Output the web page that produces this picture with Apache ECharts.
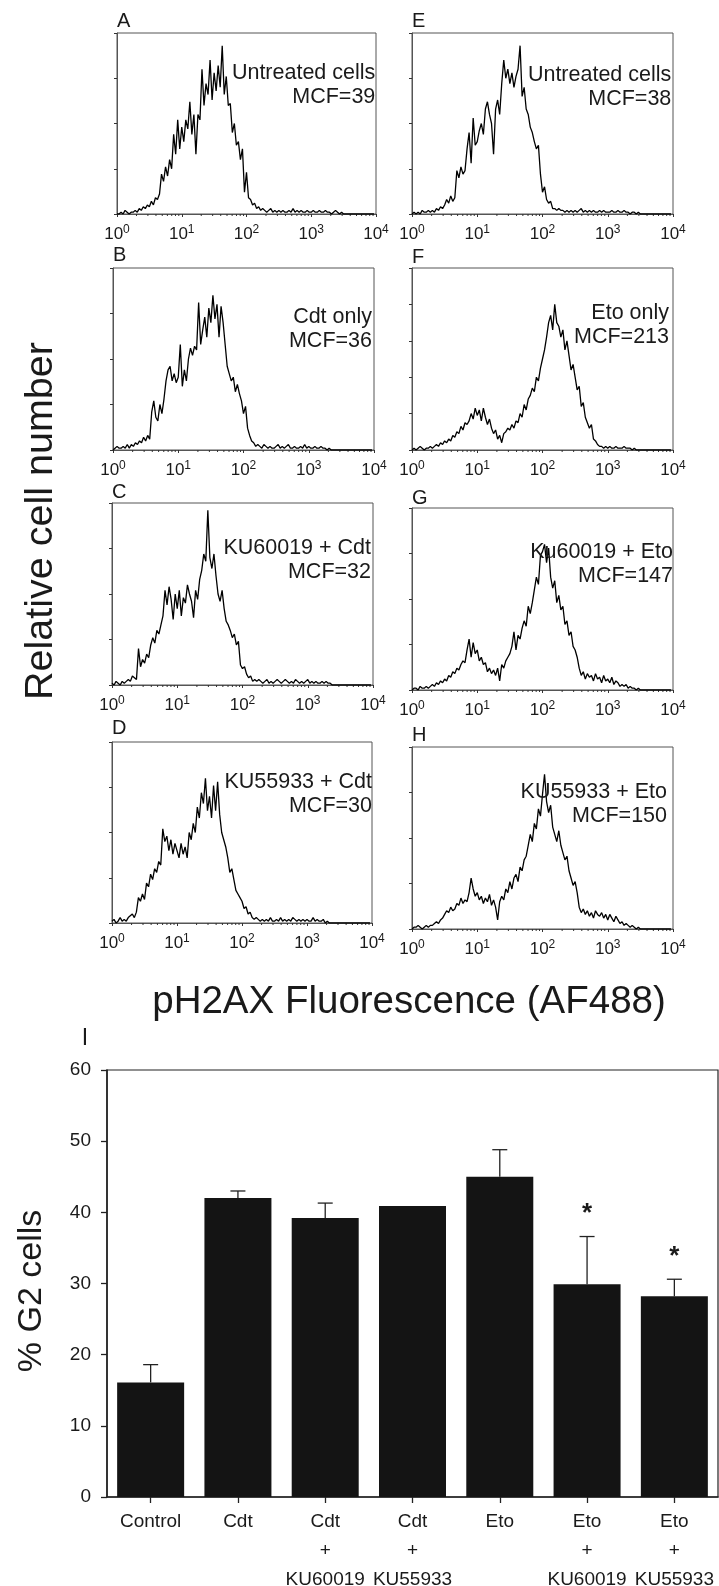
<!DOCTYPE html>
<html><head><meta charset="utf-8">
<script src="https://cdn.jsdelivr.net/npm/echarts@6/dist/echarts.min.js"></script>
<style>html,body{margin:0;padding:0;background:#fff}#c{width:719px;height:1586px}</style>
</head><body><div id="c"></div>
<script>
// ---------- histogram data (relative cell number, % of panel height; 32 bins per decade, 10^0..10^4) ----------
const binsPerDecade = 32;
const histA = [0,0,1,0,2,1,0,1, 1,2,1,3,2,4,3,5, 4,7,5,9,8,11,22,18, 26,21,30,25,44,33,52,36,
  48,40,52,47,62,44,55,33, 55,52,80,60,72,66,85,63, 78,68,82,70,93,66,76,60, 61,45,50,38,40,30,36,12,
  23,9,8,5,6,3,4,2, 3,2,1,2,3,1,2,1, 2,1,2,1,1,2,1,3, 1,2,1,2,1,1,2,1,
  1,2,1,1,2,1,1,2, 1,1,0,1,2,1,0,1, 0,0,0,0,0,0,0,0, 0,0,0,0,0,0,0,0];
const histB = [0,1,2,1,1,2,1,3, 1,3,2,4,3,5,4,7, 5,8,6,21,27,18,16,25, 20,28,38,44,46,38,42,37,
  40,58,35,44,38,50,56,52, 57,55,81,58,66,73,62,78, 70,85,72,80,62,79,70,58, 46,42,38,40,32,36,31,27,
  20,24,12,8,5,4,2,3, 2,1,3,2,1,2,1,1, 2,3,1,2,1,2,3,1, 1,2,1,1,2,1,3,1,
  2,1,1,2,1,1,2,1, 1,0,1,0,0,0,0,0, 0,0,0,0,0,0,0,0, 0,0,0,0,0,0,0,0];
const histC = [1,0,2,1,0,2,1,2, 3,2,5,4,3,20,10,14, 12,17,15,22,26,23,30,28, 33,38,52,44,54,47,36,50,
  42,52,38,48,45,55,50,46, 37,52,47,58,63,72,68,96, 70,64,72,60,50,46,52,42, 35,33,30,26,28,22,24,11,
  9,10,6,4,5,2,3,2, 3,2,1,2,3,1,2,1, 2,3,2,1,2,3,2,1, 2,1,3,2,1,2,1,2,
  3,1,2,1,2,1,1,2, 1,2,1,1,0,0,0,0, 0,0,0,0,0,0,0,0, 0,0,0,0,0,0,0,0];
const histD = [1,2,0,1,3,1,2,1, 3,4,5,3,6,14,12,16, 13,22,20,27,24,30,28,34, 32,52,45,48,40,46,38,44,
  40,36,44,38,42,36,50,46, 55,50,64,58,72,66,80,62, 70,58,76,62,78,60,50,46, 42,36,28,30,24,18,16,14,
  12,8,9,5,6,3,2,3, 2,1,2,1,2,1,3,1, 1,2,1,3,1,2,1,2, 1,3,2,1,2,1,2,1,
  2,1,1,3,1,2,1,1, 2,0,1,0,0,0,0,0, 0,0,0,0,0,0,0,0, 0,0,0,0,0,0,0,0];
const histE = [0,1,0,1,0,2,1,1, 2,1,2,1,3,2,4,3, 5,8,6,10,7,9,24,20, 26,22,24,36,45,28,53,38,
  40,46,50,44,58,62,55,50, 33,58,63,55,72,85,75,80, 72,78,70,76,80,93,65,70, 58,55,48,45,40,36,38,22,
  12,15,8,6,7,3,3,2, 3,2,2,1,2,1,2,1, 2,1,2,3,1,2,1,2, 1,2,1,1,2,1,2,1,
  1,1,2,1,1,2,1,1, 2,1,1,0,1,1,0,1, 0,0,0,0,0,0,0,0, 0,0,0,0,0,0,0,0];
const histF = [0,1,0,1,2,1,0,1, 1,2,1,2,3,2,4,3, 5,4,6,5,8,7,10,9, 13,11,15,14,16,20,17,23,
  19,22,16,23,18,14,17,12, 9,11,6,8,4,9,10,12, 11,14,12,16,15,20,18,25, 22,28,30,34,32,40,38,45,
  50,55,62,70,74,66,80,70, 68,62,66,55,60,52,44,47, 40,33,35,24,26,18,15,12, 14,6,5,3,2,2,1,2,
  1,2,1,1,2,1,1,1, 2,1,1,1,0,1,0,0, 0,0,0,0,0,0,0,0, 0,0,0,0,0,0,0,0];
const histG = [0,1,1,0,2,1,1,2, 1,2,3,2,4,3,5,4, 6,5,8,7,10,9,12,11, 14,16,15,22,28,18,26,20,
  22,16,18,14,15,10,12,9, 11,8,12,5,14,12,16,18, 20,24,32,22,30,28,34,38, 35,46,42,48,55,62,58,74,
  76,80,70,78,62,56,60,48, 52,44,46,36,38,30,32,24, 22,18,12,8,10,6,9,7, 8,5,9,6,7,4,8,5,
  6,4,7,3,5,4,2,3, 2,3,1,2,1,1,0,1, 0,0,0,0,0,0,0,0, 0,0,0,0,0,0,0,0];
const histH = [0,1,1,2,1,0,1,2, 1,2,2,3,4,3,5,6, 8,10,9,12,10,11,14,13, 17,14,16,15,20,28,22,18,
  20,16,18,14,17,15,19,13, 16,12,5,15,18,16,22,20, 26,22,28,30,26,34,32,38, 40,46,52,48,58,55,66,62,
  74,85,70,64,68,56,52,48, 54,46,42,38,40,32,28,24, 26,20,12,9,11,8,10,7, 9,6,10,8,7,9,6,8,
  5,8,6,4,7,5,3,4, 2,3,2,1,2,1,0,1, 0,0,0,0,0,0,0,0, 0,0,0,0,0,0,0,0];

const panelLetters = ['A','B','C','D','E','F','G','H'];
const panelLine1 = ['Untreated cells','Cdt only','KU60019 + Cdt','KU55933 + Cdt','Untreated cells','Eto only','Ku60019 + Eto','KU55933 + Eto'];
const panelLine2 = ['MCF=39','MCF=36','MCF=32','MCF=30','MCF=38','MCF=213','MCF=147','MCF=150'];
const decadeExponents = ['0','1','2','3','4'];
const minorTickFactors = [2,3,4,5,6,7,8,9];

// ---------- bar chart data ----------
const categories = ['Control','Cdt','Cdt\n+\nKU60019','Cdt\n+\nKU55933','Eto','Eto\n+\nKU60019','Eto\n+\nKU55933'];
const g2Values = [16.1, 42.0, 39.2, 40.9, 45.0, 29.9, 28.2];
const g2ErrorTops = [18.6, 43.0, 41.3, null, 48.8, 36.6, 30.6];
const starValues = [null, null, null, null, null, 40.6, 34.6];
const yTicksBar = [0, 60, 10];

// ---------- layout ----------
const hists = [histA, histB, histC, histD, histE, histF, histG, histH];
const layout = [
  {left:117, top:33,  width:259, height:181, yInt:25, inset:0.7, t1:40,   ld:-11.3},
  {left:113, top:268, width:261, height:182, yInt:25, inset:2,   t1:48.7, ld:-12.2},
  {left:112, top:503, width:261, height:182, yInt:25, inset:2,   t1:45.3, ld:-10.5},
  {left:112, top:742, width:260, height:181, yInt:25, inset:0,   t1:39.7, ld:-13.7},
  {left:412, top:33,  width:261, height:181, yInt:25, inset:1.7, t1:42,   ld:-11.3},
  {left:412, top:268, width:261, height:182, yInt:20, inset:4,   t1:44.7, ld:-11},
  {left:412, top:508, width:261, height:182, yInt:25, inset:0,   t1:43.7, ld:-9.7},
  {left:412, top:747, width:261, height:182, yInt:25, inset:6,   t1:44.7, ld:-11.2}
];
const FONT = '"Liberation Sans", Arial, Helvetica, sans-serif';
const INK = '#1a1a1a';
const FRAME = '#555';

const grids = [], xAxes = [], yAxes = [], series = [], graphics = [];
const minorPositions = [];
[0,1,2,3].forEach(n => minorTickFactors.forEach(k => minorPositions.push([n + Math.log10(k)])));

layout.forEach((p, k) => {
  grids.push({left:p.left, top:p.top, width:p.width, height:p.height, show:true, borderColor:FRAME, borderWidth:1,
    containLabel:false, outerBoundsMode:'none'});
  xAxes.push({
    gridIndex:k, type:'value', min:0, max:4, interval:1,
    axisLine:{show:true, onZero:false, lineStyle:{color:FRAME, width:1}},
    axisTick:{show:true, length:3, lineStyle:{color:'#333', width:1}},
    splitLine:{show:false},
    axisLabel:{
      margin:10, showMinLabel:true, showMaxLabel:true,
      formatter: v => '{b|10}{s|' + decadeExponents[Math.round(v)] + '}',
      rich:{
        b:{fontSize:17, fontFamily:FONT, color:INK, lineHeight:21, verticalAlign:'middle'},
        s:{fontSize:12, fontFamily:FONT, color:INK, lineHeight:12, verticalAlign:'top'}
      }
    }
  });
  yAxes.push({
    gridIndex:k, type:'value', min:0, max:100, interval:p.yInt,
    axisLine:{show:true, lineStyle:{color:FRAME, width:1}},
    axisTick:{show:true, length:3, lineStyle:{color:'#333', width:1}},
    axisLabel:{show:false}, splitLine:{show:false}
  });
  series.push({
    type:'line', xAxisIndex:k, yAxisIndex:k, symbol:'none', silent:true,
    lineStyle:{color:'#000', width:1.3},
    data: hists[k].map((v, i) => [i / binsPerDecade, v])
  });
  series.push({
    type:'custom', xAxisIndex:k, yAxisIndex:k, clip:false, silent:true,
    data: minorPositions, encode:{x:0},
    renderItem: (params, api) => {
      const pt = api.coord([api.value(0), 0]);
      return {type:'line', shape:{x1:pt[0], y1:pt[1], x2:pt[0], y2:pt[1] + 2}, style:{stroke:'#333', lineWidth:1}};
    }
  });
  graphics.push({type:'text', x:p.left, y:p.top + p.ld, style:{text:panelLetters[k], fontSize:20, fontFamily:FONT, fill:INK,
    align:'left', verticalAlign:'middle', textAlign:'left', textVerticalAlign:'middle'}});
  const rx = p.left + p.width - p.inset;
  graphics.push({type:'text', x:rx, y:p.top + p.t1, z:10, style:{text:panelLine1[k], fontSize:21.5, fontFamily:FONT, fill:INK,
    align:'right', verticalAlign:'middle', textAlign:'right', textVerticalAlign:'middle'}});
  graphics.push({type:'text', x:rx, y:p.top + p.t1 + 24, z:10, style:{text:panelLine2[k], fontSize:21.5, fontFamily:FONT, fill:INK,
    align:'right', verticalAlign:'middle', textAlign:'right', textVerticalAlign:'middle'}});
});

// ---------- bar chart ----------
const bi = 8;
grids.push({left:107, top:1070, width:611, height:427, show:true, borderColor:'#222', borderWidth:1.2,
  containLabel:false, outerBoundsMode:'none'});
xAxes.push({
  gridIndex:bi, type:'category', data:categories,
  axisLine:{show:true, lineStyle:{color:'#222', width:1.6}},
  axisTick:{show:true, alignWithLabel:true, length:6, lineStyle:{color:'#222', width:1.3}},
  axisLabel:{interval:0, fontSize:19, fontFamily:FONT, color:INK, lineHeight:29, margin:10}
});
yAxes.push({
  gridIndex:bi, type:'value', min:yTicksBar[0], max:yTicksBar[1], interval:yTicksBar[2],
  axisLine:{show:true, lineStyle:{color:'#222', width:1.6}},
  axisTick:{show:true, length:6, lineStyle:{color:'#222', width:1.3}},
  axisLabel:{fontSize:19, fontFamily:FONT, color:INK, margin:16},
  splitLine:{show:false}
});
series.push({
  type:'bar', xAxisIndex:bi, yAxisIndex:bi, barWidth:67, silent:true,
  itemStyle:{color:'#141414'}, data:g2Values
});
series.push({
  type:'custom', xAxisIndex:bi, yAxisIndex:bi, clip:false, silent:true, z:5,
  data: g2Values.map((v, i) => [i, g2ErrorTops[i], v]).filter(d => d[1] != null),
  encode:{x:0, y:1},
  renderItem: (params, api) => {
    const top = api.coord([api.value(0), api.value(1)]);
    const base = api.coord([api.value(0), api.value(2)]);
    return {type:'group', children:[
      {type:'line', shape:{x1:top[0], y1:base[1], x2:top[0], y2:top[1]}, style:{stroke:'#222', lineWidth:1.3}},
      {type:'line', shape:{x1:top[0] - 7.5, y1:top[1], x2:top[0] + 7.5, y2:top[1]}, style:{stroke:'#222', lineWidth:1.3}}
    ]};
  }
});
series.push({
  type:'custom', xAxisIndex:bi, yAxisIndex:bi, clip:false, silent:true, z:6,
  data: starValues.map((v, i) => [i, v]).filter(d => d[1] != null),
  encode:{x:0, y:1},
  renderItem: (params, api) => {
    const pt = api.coord([api.value(0), api.value(1)]);
    return {type:'text', x:pt[0], y:pt[1] + 6, style:{text:'*', fontSize:26, fontWeight:'bold', fontFamily:FONT, fill:INK,
      align:'center', verticalAlign:'middle', textAlign:'center', textVerticalAlign:'middle'}};
  }
});

// ---------- titles ----------
graphics.push({type:'text', x:41, y:521, rotation:Math.PI/2, style:{text:'Relative cell number', fontSize:39.5, fontFamily:FONT, fill:INK,
  align:'center', verticalAlign:'middle', textAlign:'center', textVerticalAlign:'middle'}});
graphics.push({type:'text', x:409, y:1002, style:{text:'pH2AX Fluorescence (AF488)', fontSize:38.5, fontFamily:FONT, fill:INK,
  align:'center', verticalAlign:'middle', textAlign:'center', textVerticalAlign:'middle'}});
graphics.push({type:'text', x:85, y:1039, style:{text:'I', fontSize:23, fontFamily:FONT, fill:INK,
  align:'center', verticalAlign:'middle', textAlign:'center', textVerticalAlign:'middle'}});
graphics.push({type:'text', x:32, y:1291, rotation:Math.PI/2, style:{text:'% G2 cells', fontSize:34, fontFamily:FONT, fill:INK,
  align:'center', verticalAlign:'middle', textAlign:'center', textVerticalAlign:'middle'}});

const chart = echarts.init(document.getElementById('c'), null, {renderer:'canvas'});
chart.setOption({
  animation:false, backgroundColor:'#fff',
  grid:grids, xAxis:xAxes, yAxis:yAxes, series:series, graphic:graphics
});
</script></body></html>
